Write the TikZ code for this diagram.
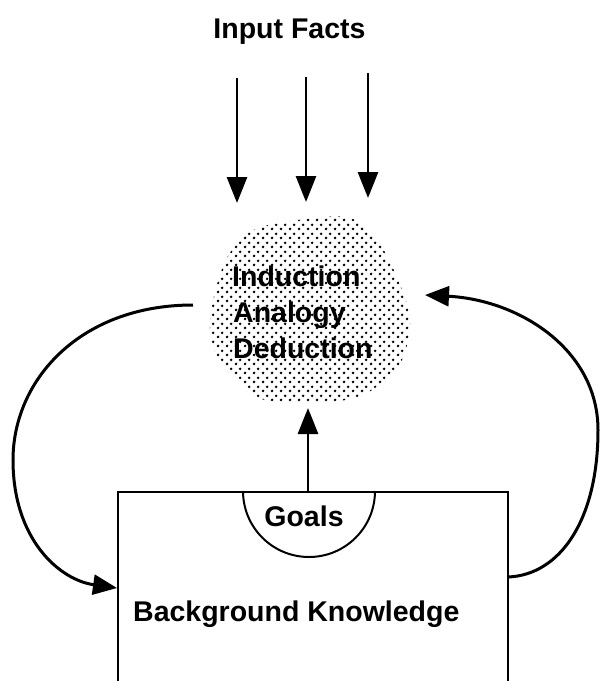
\documentclass[tikz,border=0pt]{standalone}
\usepackage{fontspec}
\setmainfont{Liberation Sans}
\usetikzlibrary{arrows.meta,patterns.meta}
\tikzdeclarepattern{
  name=stipple,
  type=uncolored,
  bottom left={(0pt,0pt)},
  top right={(9pt,9pt)},
  tile size={(9pt,9pt)},
  code={
    \fill (2.25pt,2.25pt) circle (1.6pt);
    \fill (6.75pt,6.75pt) circle (1.6pt);
  }
}
\begin{document}
\begin{tikzpicture}[x=1pt,y=-1pt,
  lbl/.style={font=\fontsize{28.5}{34}\selectfont\bfseries, inner sep=0pt},
  arr/.style={line width=2.8pt, -{Triangle[width=20pt,length=26pt]}},
  curve/.style={line width=3pt, -{Triangle[width=20pt,length=24pt]}},
  boxline/.style={line width=2pt}]
\useasboundingbox (0,0) rectangle (600,681);
\clip (0,0) rectangle (600,681);
\fill[white] (0,0) rectangle (600,681);

% stippled blob
\path[pattern=stipple, pattern color=black]
  plot[smooth cycle, tension=0.6] coordinates {(285,222) (345,217) (374,236) (396,275) (410,320) (402,360) (385,380) (360,396) (320,403) (265,400) (244,386) (220,362) (210,330) (215,292) (228,256) (250,232)};

% labels
\node[lbl, anchor=base] (facts) at (289.5,38) {Input Facts};
\node[lbl, anchor=base west] (ind) at (232,286) {Induction};
\node[lbl, anchor=base west] (ana) at (233,322) {Analogy};
\node[lbl, anchor=base west] (ded) at (233,358) {Deduction};

% background knowledge box
\node[draw, boxline, minimum width=390pt, minimum height=230pt, anchor=north west, inner sep=0pt] (bk) at (117,491) {};
\draw[boxline] (243,491) arc[start angle=180, end angle=0, radius=66];
\node[lbl, anchor=base] (goals) at (304,526) {Goals};
\node[lbl, anchor=base west] (bkl) at (133,621) {Background Knowledge};

% input arrows
\coordinate (f1s) at (237,78);  \coordinate (f1e) at (237,203);
\coordinate (f2s) at (306,77);  \coordinate (f2e) at (306,202);
\coordinate (f3s) at (368,73);  \coordinate (f3e) at (368,198);
\draw[arr] (f1s) -- (f1e);
\draw[arr] (f2s) -- (f2e);
\draw[arr] (f3s) -- (f3e);

% goals to reasoning
\coordinate (gtop) at (308,491);
\coordinate (gend) at (308,408);
\draw[arr] (gtop) -- (gend);

% left loop: reasoning -> background knowledge
\coordinate (lstart) at (193,305);
\coordinate (lend) at (117,588);
\draw[curve] (lstart) .. controls (80,305) and (13,380) .. (13,460)
  .. controls (13,540) and (60,580) .. (lend);

% right loop: background knowledge -> reasoning
\coordinate (rstart) at (508,577);
\coordinate (rend) at (425,295);
\draw[curve] (rstart) .. controls (560,575) and (598,520) .. (598,430)
  .. controls (598,350) and (520,300) .. (rend);
\end{tikzpicture}
\end{document}
